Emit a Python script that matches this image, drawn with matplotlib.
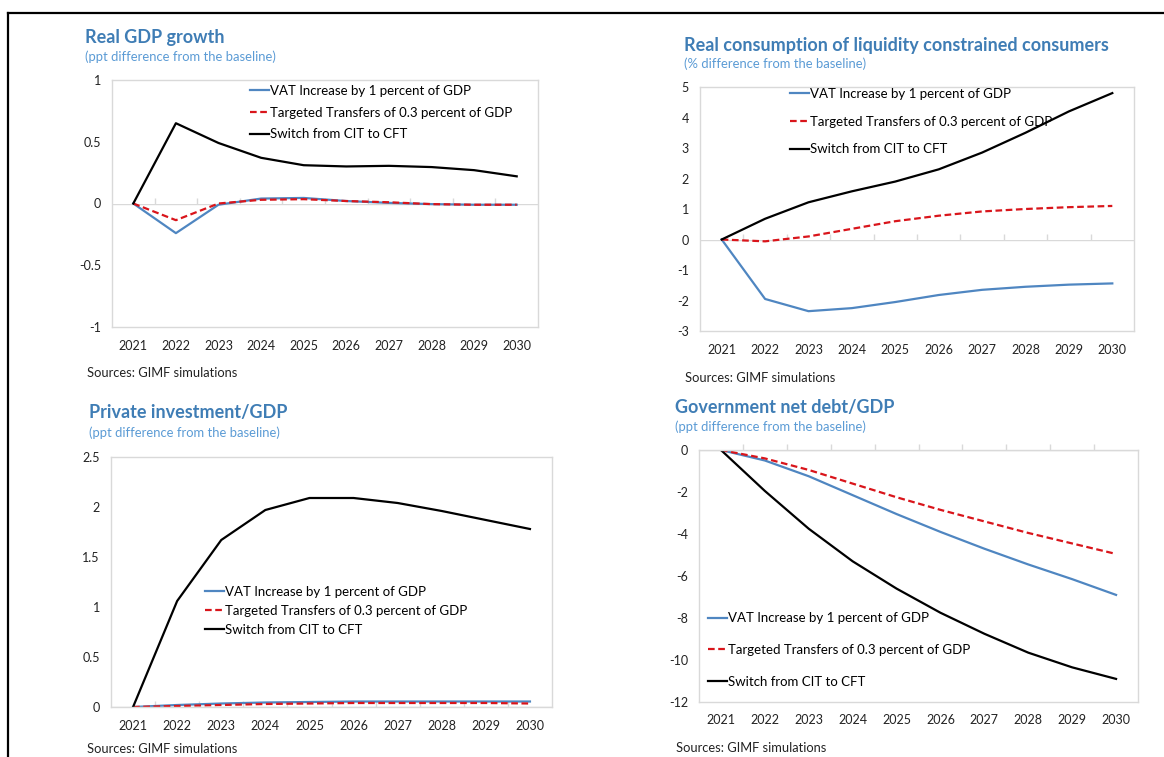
import matplotlib
matplotlib.use('Agg')
import matplotlib.pyplot as plt
from matplotlib.lines import Line2D
from matplotlib.ticker import FuncFormatter

plt.rcParams['font.family'] = ['Lato', 'DejaVu Sans']

years = ['2021', '2022', '2023', '2024', '2025', '2026', '2027', '2028', '2029', '2030']
labels = ['VAT Increase by 1 percent of GDP',
          'Targeted Transfers of 0.3 percent of GDP',
          'Switch from CIT to CFT']

# Real GDP growth
gdp_vat = [0, -0.24, -0.01, 0.04, 0.045, 0.02, 0.005, -0.005, -0.01, -0.01]
gdp_tt = [0, -0.135, 0.0, 0.03, 0.035, 0.02, 0.01, -0.005, -0.01, -0.01]
gdp_cft = [0, 0.65, 0.49, 0.37, 0.31, 0.30, 0.305, 0.295, 0.27, 0.22]

# Real consumption of liquidity constrained consumers
cons_vat = [0, -1.95, -2.35, -2.25, -2.05, -1.82, -1.65, -1.55, -1.48, -1.44]
cons_tt = [0, -0.06, 0.1, 0.35, 0.6, 0.78, 0.92, 1.0, 1.06, 1.1]
cons_cft = [0, 0.68, 1.22, 1.58, 1.9, 2.3, 2.85, 3.5, 4.2, 4.8]

# Private investment/GDP
inv_vat = [0, 0.02, 0.035, 0.045, 0.05, 0.055, 0.055, 0.055, 0.055, 0.055]
inv_tt = [0, 0.01, 0.02, 0.03, 0.035, 0.04, 0.04, 0.04, 0.04, 0.035]
inv_cft = [0, 1.06, 1.67, 1.97, 2.09, 2.09, 2.04, 1.96, 1.87, 1.78]

# Government net debt/GDP
debt_vat = [0, -0.5, -1.25, -2.15, -3.05, -3.9, -4.7, -5.45, -6.15, -6.9]
debt_tt = [0, -0.4, -0.95, -1.6, -2.25, -2.85, -3.4, -3.95, -4.45, -4.95]
debt_cft = [0, -1.95, -3.75, -5.3, -6.6, -7.75, -8.75, -9.65, -10.35, -10.9]

W, H = 1164, 757
BLUE = '#4F86C1'
RED = '#D9151B'
GRID = '#D9D9D9'
TITLE_C = '#3F7DB5'
SUB_C = '#5B9BD5'

fig = plt.figure(figsize=(W / 100, H / 100), dpi=100)

# border of the screenshot
fig.add_artist(Line2D([7.5 / W, 7.5 / W], [0, 1 - 12.5 / H], color='black', lw=1.6, transform=fig.transFigure))
fig.add_artist(Line2D([7.5 / W, 1], [1 - 12.5 / H, 1 - 12.5 / H], color='black', lw=1.6, transform=fig.transFigure))


def panel(px, series, ylim, yticks, title, sub, title_xy, sub_xy, src_xy, leg_anchor, leg_space):
    l, t, r, b = px
    ax = fig.add_axes([l / W, 1 - b / H, (r - l) / W, (b - t) / H])
    x = range(len(years))
    h1, = ax.plot(x, series[0], color=BLUE, lw=1.6)
    h2, = ax.plot(x, series[1], color=RED, lw=1.6, dashes=(3, 1.6))
    h3, = ax.plot(x, series[2], color='black', lw=1.6)
    ax.axhline(0, color=GRID, lw=1, zorder=0)
    ax.set_xlim(-0.5, len(years) - 0.5)
    ax.set_ylim(*ylim)
    ax.set_yticks(yticks)
    ax.yaxis.set_major_formatter(FuncFormatter(lambda v, p: f'{v:g}'))
    ax.set_xticks(list(x))
    ax.set_xticklabels(years)
    ax.tick_params(axis='both', length=0, labelsize=9, colors='#222222')
    ax.tick_params(axis='y', pad=8)
    ax.tick_params(axis='x', pad=9)
    for s in ax.spines.values():
        s.set_color(GRID)
        s.set_linewidth(1)
    # small category ticks on the zero line
    sec = ax.secondary_xaxis(0, transform=ax.transData)
    sec.set_alignment('bottom')
    sec.set_xticks([i + 0.5 for i in range(len(years) - 1)])
    sec.tick_params(axis='x', direction='in', length=4, width=1, color=GRID,
                    labelbottom=False, labeltop=False, top=False)
    for s in sec.spines.values():
        s.set_visible(False)
    ax.legend([h1, h2, h3], labels, loc='upper left', bbox_to_anchor=leg_anchor,
              frameon=False, borderpad=0, borderaxespad=0, handlelength=1.45,
              handletextpad=0.1, labelspacing=leg_space, fontsize=9.5)
    fig.text(title_xy[0] / W, 1 - title_xy[1] / H, title, fontsize=13, fontweight='bold',
             color=TITLE_C, va='center', ha='left')
    fig.text(sub_xy[0] / W, 1 - sub_xy[1] / H, sub, fontsize=9.4, color=SUB_C, va='center', ha='left')
    fig.text(src_xy[0] / W, 1 - src_xy[1] / H, 'Sources: GIMF simulations', fontsize=9.3,
             color='#222222', va='center', ha='left')
    return ax


panel((112, 80, 538, 327), [gdp_vat, gdp_tt, gdp_cft], (-1, 1), [-1, -0.5, 0, 0.5, 1],
      'Real GDP growth', '(ppt difference from the baseline)',
      (85, 38), (85, 57), (87, 373), (0.323, 0.98), 0.74)

panel((700, 87, 1134, 331), [cons_vat, cons_tt, cons_cft], (-3, 5), list(range(-3, 6)),
      'Real consumption of liquidity constrained consumers', '(% difference from the baseline)',
      (684, 45), (684, 64), (685, 378), (0.207, 0.996), 1.19)

panel((111, 457, 552, 707), [inv_vat, inv_tt, inv_cft], (0, 2.5), [0, 0.5, 1, 1.5, 2, 2.5],
      'Private investment/GDP', '(ppt difference from the baseline)',
      (89, 412), (89, 433), (87, 749), (0.213, 0.486), 0.55)

panel((699, 450, 1138, 702), [debt_vat, debt_tt, debt_cft], (-12, 0), list(range(-12, 1, 2)),
      'Government net debt/GDP', '(ppt difference from the baseline)',
      (675, 408), (675, 427), (676, 748), (0.02, 0.356), 1.5)

fig.savefig('out.png', dpi=100)
